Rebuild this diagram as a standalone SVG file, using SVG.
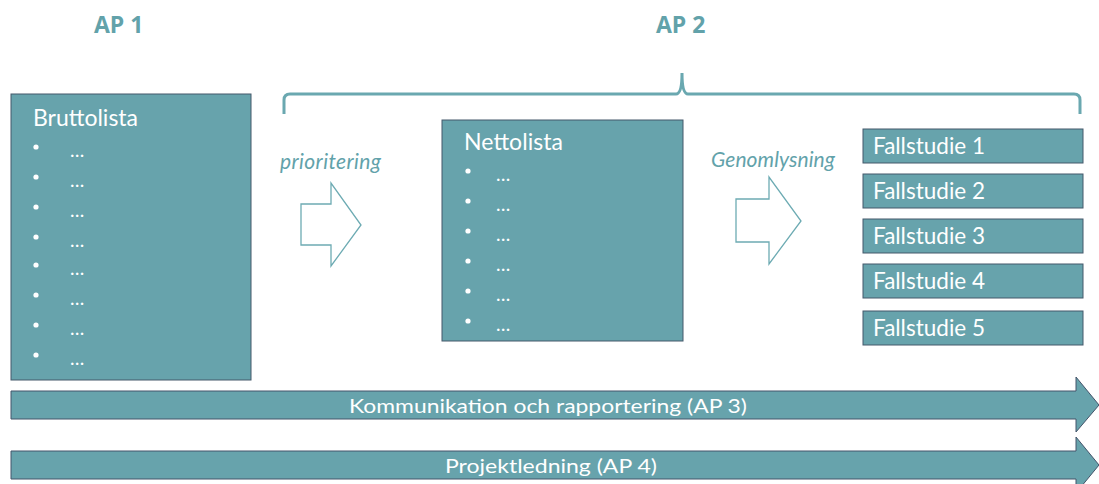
<svg xmlns="http://www.w3.org/2000/svg" width="1099" height="484" viewBox="0 0 1099 484">
<style>
.box{fill:#67a3ac;stroke:#44596b;stroke-width:1}
.t{font-family:Lato,"Open Sans","Liberation Sans",sans-serif;fill:#fff}
.title{font-size:23px}
.fs{font-size:22.5px}
.el{font-size:19px}
.bul{fill:#fff}
.head{font-family:"Open Sans",Lato,"Liberation Sans",sans-serif;font-weight:bold;font-size:23px;fill:#62a2aa}
.lbl{font-family:Lato,"Open Sans","Liberation Sans",sans-serif;font-style:italic;font-size:21px;fill:#62a2aa}
.hollow{fill:#fff;stroke:#6dabb3;stroke-width:1.3}
.bar{fill:#67a3ac;stroke:#44546a;stroke-width:1}
</style>
<rect width="1099" height="484" fill="#fff"/>
<g id="headings">
<text class="head" x="94" y="33">AP 1</text>
<text class="head" x="656" y="33">AP 2</text>
</g>
<g id="brace">
<path d="M284,114 L284,100 Q284,94 290,94 L676,94 Q682,94 682,73 Q682,94 688,94 L1074,94 Q1080,94 1080,100 L1080,114" fill="none" stroke="#6aa8b0" stroke-width="3"/>
</g>
<g id="bruttolista">
<rect class="box" x="11" y="94" width="240" height="286"/>
<text class="t title" x="33" y="126" textLength="105">Bruttolista</text>
<g class="bul">
<circle cx="36" cy="147" r="2.6"/><circle cx="36" cy="177" r="2.6"/><circle cx="36" cy="207" r="2.6"/><circle cx="36" cy="237" r="2.6"/>
<circle cx="36" cy="265" r="2.6"/><circle cx="36" cy="295" r="2.6"/><circle cx="36" cy="325" r="2.6"/><circle cx="36" cy="355" r="2.6"/>
</g>
<g class="t el">
<text x="70" y="157">…</text><text x="70" y="187">…</text><text x="70" y="217">…</text><text x="70" y="247">…</text>
<text x="70" y="275">…</text><text x="70" y="305">…</text><text x="70" y="335">…</text><text x="70" y="365">…</text>
</g>
</g>
<g id="prioritering">
<text class="lbl" x="280" y="169" textLength="101">prioritering</text>
<path class="hollow" d="M301,204 L331,204 L331,183 L361,225 L331,266 L331,245 L301,245 Z"/>
</g>
<g id="nettolista">
<rect class="box" x="442" y="120" width="241" height="221"/>
<text class="t title" x="464" y="150" textLength="99">Nettolista</text>
<g class="bul">
<circle cx="468" cy="171" r="2.6"/><circle cx="468" cy="201" r="2.6"/><circle cx="468" cy="231" r="2.6"/>
<circle cx="468" cy="261" r="2.6"/><circle cx="468" cy="291" r="2.6"/><circle cx="468" cy="321" r="2.6"/>
</g>
<g class="t el">
<text x="496" y="181">…</text><text x="496" y="211">…</text><text x="496" y="241">…</text>
<text x="496" y="271">…</text><text x="496" y="301">…</text><text x="496" y="331">…</text>
</g>
</g>
<g id="genomlysning">
<text class="lbl" x="711" y="167" textLength="124">Genomlysning</text>
<path class="hollow" d="M736,199 L769,199 L769,177 L801,221 L769,264 L769,242 L736,242 Z"/>
</g>
<g id="fallstudie1"><rect class="box" x="863" y="129" width="220" height="34"/><text class="t fs" x="873" y="154">Fallstudie 1</text></g>
<g id="fallstudie2"><rect class="box" x="863" y="174" width="220" height="34"/><text class="t fs" x="873" y="199">Fallstudie 2</text></g>
<g id="fallstudie3"><rect class="box" x="863" y="219" width="220" height="34"/><text class="t fs" x="873" y="244">Fallstudie 3</text></g>
<g id="fallstudie4"><rect class="box" x="863" y="264" width="220" height="34"/><text class="t fs" x="873" y="289">Fallstudie 4</text></g>
<g id="fallstudie5"><rect class="box" x="863" y="311" width="220" height="34"/><text class="t fs" x="873" y="336">Fallstudie 5</text></g>
<g id="ap3">
<path class="bar" d="M11,391 L1076,391 L1076,377 L1099,405 L1076,432 L1076,419 L11,419 Z"/>
<text class="t" x="548" y="413" font-size="20" text-anchor="middle" textLength="398" lengthAdjust="spacingAndGlyphs">Kommunikation och rapportering (AP 3)</text>
</g>
<g id="ap4">
<path class="bar" d="M11,451 L1076,451 L1076,437 L1099,465 L1076,493 L1076,479 L11,479 Z"/>
<text class="t" x="551" y="473" font-size="20" text-anchor="middle" textLength="212" lengthAdjust="spacingAndGlyphs">Projektledning (AP 4)</text>
</g>
</svg>
